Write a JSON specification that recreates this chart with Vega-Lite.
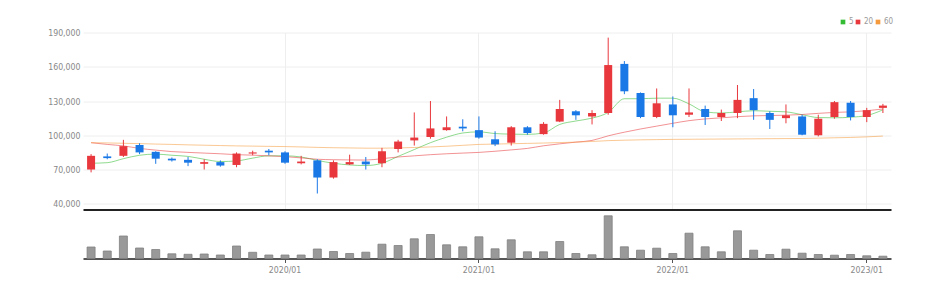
{
  "$schema": "https://vega.github.io/schema/vega-lite/v6.json",
  "padding": {"left": 0, "top": 17.5, "right": 0, "bottom": 0},
  "autosize": {"type": "pad"},
  "spacing": 0,
  "background": "white",
  "config": {
    "view": {"stroke": null},
    "font": "Liberation Sans Narrow, DejaVu Sans Condensed, Roboto, sans-serif",
    "axis": {"labelFont": "Liberation Sans Narrow, DejaVu Sans Condensed, Roboto, sans-serif", "labelColor": "#888", "labelFontSize": 8.7}
  },
  "data": {"values": [
    {"m": "2019/01", "o": 70000, "h": 83500, "l": 67500, "c": 82000, "v": 1150000, "ma5": 75500, "ma20": 93500, "ma60": 93500},
    {"m": "2019/02", "o": 81500, "h": 84000, "l": 79000, "c": 80000, "v": 750000, "ma5": 76000, "ma20": 92000, "ma60": 93300},
    {"m": "2019/03", "o": 82000, "h": 96000, "l": 81000, "c": 90500, "v": 2250000, "ma5": 79500, "ma20": 90700, "ma60": 93000},
    {"m": "2019/04", "o": 91500, "h": 93000, "l": 83500, "c": 85000, "v": 1050000, "ma5": 82500, "ma20": 88500, "ma60": 92700},
    {"m": "2019/05", "o": 85500, "h": 86000, "l": 75000, "c": 79500, "v": 900000, "ma5": 83500, "ma20": 87000, "ma60": 92300},
    {"m": "2019/06", "o": 79500, "h": 80500, "l": 77000, "c": 78000, "v": 470000, "ma5": 82500, "ma20": 85700, "ma60": 92000},
    {"m": "2019/07", "o": 78500, "h": 81000, "l": 73000, "c": 76000, "v": 420000, "ma5": 81500, "ma20": 85000, "ma60": 91600},
    {"m": "2019/08", "o": 75000, "h": 79000, "l": 70000, "c": 76500, "v": 450000, "ma5": 79000, "ma20": 84400, "ma60": 91300},
    {"m": "2019/09", "o": 76500, "h": 78000, "l": 72500, "c": 73500, "v": 350000, "ma5": 77000, "ma20": 83800, "ma60": 91000},
    {"m": "2019/10", "o": 74000, "h": 85000, "l": 72000, "c": 84000, "v": 1250000, "ma5": 77500, "ma20": 83000, "ma60": 90700},
    {"m": "2019/11", "o": 84000, "h": 86500, "l": 82500, "c": 85000, "v": 620000, "ma5": 80000, "ma20": 82600, "ma60": 90500},
    {"m": "2019/12", "o": 86500, "h": 88000, "l": 82500, "c": 85000, "v": 350000, "ma5": 82000, "ma20": 82000, "ma60": 90300},
    {"m": "2020/01", "o": 85000, "h": 86000, "l": 75000, "c": 76000, "v": 350000, "ma5": 82000, "ma20": 81300, "ma60": 90100},
    {"m": "2020/02", "o": 75500, "h": 82000, "l": 74500, "c": 77000, "v": 350000, "ma5": 81000, "ma20": 80200, "ma60": 89800},
    {"m": "2020/03", "o": 78000, "h": 79000, "l": 49000, "c": 63000, "v": 950000, "ma5": 78000, "ma20": 79000, "ma60": 89400},
    {"m": "2020/04", "o": 63000, "h": 78000, "l": 62000, "c": 76500, "v": 700000, "ma5": 75500, "ma20": 78600, "ma60": 89100},
    {"m": "2020/05", "o": 74500, "h": 83000, "l": 74000, "c": 76500, "v": 500000, "ma5": 74000, "ma20": 78400, "ma60": 88900},
    {"m": "2020/06", "o": 77000, "h": 81000, "l": 70000, "c": 74500, "v": 630000, "ma5": 73500, "ma20": 78300, "ma60": 88700},
    {"m": "2020/07", "o": 75500, "h": 89000, "l": 72000, "c": 86000, "v": 1430000, "ma5": 75500, "ma20": 79500, "ma60": 88700},
    {"m": "2020/08", "o": 88000, "h": 96000, "l": 85000, "c": 94500, "v": 1300000, "ma5": 81500, "ma20": 81000, "ma60": 88900},
    {"m": "2020/09", "o": 95500, "h": 120000, "l": 91000, "c": 98000, "v": 1970000, "ma5": 87500, "ma20": 82000, "ma60": 89300},
    {"m": "2020/10", "o": 98500, "h": 130000, "l": 97000, "c": 106000, "v": 2400000, "ma5": 93500, "ma20": 83000, "ma60": 89800},
    {"m": "2020/11", "o": 104500, "h": 116500, "l": 104000, "c": 107000, "v": 1370000, "ma5": 98300, "ma20": 83800, "ma60": 90400},
    {"m": "2020/12", "o": 107500, "h": 114000, "l": 103500, "c": 106000, "v": 1170000, "ma5": 102000, "ma20": 84400, "ma60": 91200},
    {"m": "2021/01", "o": 104500, "h": 116500, "l": 97000, "c": 98000, "v": 2170000, "ma5": 103000, "ma20": 85000, "ma60": 92000},
    {"m": "2021/02", "o": 96500, "h": 103500, "l": 90500, "c": 92000, "v": 970000, "ma5": 101500, "ma20": 86000, "ma60": 92300},
    {"m": "2021/03", "o": 93500, "h": 108000, "l": 91000, "c": 107000, "v": 1870000, "ma5": 101000, "ma20": 87200, "ma60": 92600},
    {"m": "2021/04", "o": 107000, "h": 108000, "l": 100500, "c": 102000, "v": 670000, "ma5": 100800, "ma20": 88500, "ma60": 92900},
    {"m": "2021/05", "o": 101000, "h": 111500, "l": 100500, "c": 110000, "v": 670000, "ma5": 102000, "ma20": 90800, "ma60": 93200},
    {"m": "2021/06", "o": 112000, "h": 131000, "l": 111500, "c": 123000, "v": 1700000, "ma5": 109500, "ma20": 92500, "ma60": 93600},
    {"m": "2021/07", "o": 121000, "h": 122000, "l": 113500, "c": 117500, "v": 500000, "ma5": 112500, "ma20": 94000, "ma60": 94000},
    {"m": "2021/08", "o": 116500, "h": 122000, "l": 109500, "c": 119500, "v": 370000, "ma5": 115000, "ma20": 95500, "ma60": 94600},
    {"m": "2021/09", "o": 119500, "h": 185500, "l": 118000, "c": 161500, "v": 4270000, "ma5": 120000, "ma20": 99500, "ma60": 95300},
    {"m": "2021/10", "o": 162500, "h": 165000, "l": 136000, "c": 138500, "v": 1170000, "ma5": 132000, "ma20": 102700, "ma60": 95700},
    {"m": "2021/11", "o": 137000, "h": 137500, "l": 115000, "c": 116000, "v": 830000, "ma5": 132000, "ma20": 105500, "ma60": 96000},
    {"m": "2021/12", "o": 116000, "h": 141000, "l": 115000, "c": 128000, "v": 1030000, "ma5": 132500, "ma20": 108000, "ma60": 96200},
    {"m": "2022/01", "o": 127000, "h": 134000, "l": 107000, "c": 117500, "v": 500000, "ma5": 132500, "ma20": 110500, "ma60": 96400},
    {"m": "2022/02", "o": 118000, "h": 141000, "l": 116000, "c": 120000, "v": 2530000, "ma5": 127500, "ma20": 112800, "ma60": 96500},
    {"m": "2022/03", "o": 123000, "h": 126000, "l": 109000, "c": 116000, "v": 1170000, "ma5": 120500, "ma20": 114300, "ma60": 96600},
    {"m": "2022/04", "o": 116000, "h": 122500, "l": 112500, "c": 119500, "v": 670000, "ma5": 119500, "ma20": 115300, "ma60": 96700},
    {"m": "2022/05", "o": 119500, "h": 144000, "l": 115000, "c": 131000, "v": 2770000, "ma5": 120500, "ma20": 116300, "ma60": 96800},
    {"m": "2022/06", "o": 132500, "h": 140500, "l": 113500, "c": 122000, "v": 830000, "ma5": 121500, "ma20": 117000, "ma60": 96900},
    {"m": "2022/07", "o": 119500, "h": 121000, "l": 105500, "c": 113500, "v": 400000, "ma5": 121000, "ma20": 117300, "ma60": 97000},
    {"m": "2022/08", "o": 115000, "h": 127000, "l": 110500, "c": 117500, "v": 930000, "ma5": 120500, "ma20": 117600, "ma60": 97100},
    {"m": "2022/09", "o": 116500, "h": 118000, "l": 100000, "c": 100500, "v": 530000, "ma5": 118000, "ma20": 118200, "ma60": 97200},
    {"m": "2022/10", "o": 100000, "h": 118000, "l": 99000, "c": 114500, "v": 400000, "ma5": 115500, "ma20": 119200, "ma60": 97500},
    {"m": "2022/11", "o": 116000, "h": 130000, "l": 114500, "c": 129000, "v": 330000, "ma5": 115300, "ma20": 120000, "ma60": 97800},
    {"m": "2022/12", "o": 128500, "h": 130000, "l": 113000, "c": 116000, "v": 400000, "ma5": 115800, "ma20": 120500, "ma60": 98100},
    {"m": "2023/01", "o": 116000, "h": 124000, "l": 111500, "c": 122000, "v": 270000, "ma5": 117300, "ma20": 121500, "ma60": 98600},
    {"m": "2023/02", "o": 124000, "h": 127500, "l": 119500, "c": 126000, "v": 230000, "ma5": 122300, "ma20": 123000, "ma60": 99300}
  ]},
  "vconcat": [
    {
      "width": 808,
      "height": 177,
      "encoding": {
        "x": {
          "field": "m", "type": "ordinal", "sort": null,
          "scale": {"type": "band", "paddingInner": 0, "paddingOuter": 0},
          "axis": {
            "title": null, "labels": false, "ticks": false,
            "domainColor": "#222", "domainWidth": 2,
            "grid": true, "gridColor": "#eeeeee", "bandPosition": 0.5,
            "values": ["2020/01", "2021/01", "2022/01", "2023/01"]
          }
        }
      },
      "layer": [
        {
          "transform": [{"fold": ["ma5", "ma20", "ma60"], "as": ["ma", "val"]}],
          "mark": {"type": "line", "strokeWidth": 1, "opacity": 0.55, "interpolate": "monotone"},
          "encoding": {
            "y": {
              "field": "val", "type": "quantitative",
              "scale": {"domain": [35000, 190000], "nice": false, "zero": false},
              "axis": {
                "title": null, "values": [40000, 70000, 100000, 130000, 160000, 190000], "tickCount": 12,
                "format": ",.0f", "labelOverlap": false, "domain": false, "ticks": false, "labelPadding": 3,
                "gridColor": "#eeeeee", "minExtent": 83, "maxExtent": 83
              }
            },
            "color": {
              "field": "ma", "type": "nominal",
              "scale": {"domain": ["ma5", "ma20", "ma60"], "range": ["#33bb33", "#e8383d", "#f59a3c"]},
              "legend": {
                "title": null, "orient": "none", "direction": "horizontal",
                "legendX": 756, "legendY": -14.5,
                "symbolType": "square", "symbolSize": 22, "symbolOpacity": 1,
                "symbolStrokeWidth": 0,
                "labelExpr": "replace(datum.label, 'ma', '')",
                "labelColor": "#999", "labelFontSize": 8,
                "labelFont": "Liberation Sans Narrow, DejaVu Sans Condensed, Roboto, sans-serif",
                "columnPadding": 0, "labelOffset": 2,
                "encode": {"symbols": {"update": {"fill": {"scale": "color", "field": "value"}, "opacity": {"value": 1}}}}
              }
            }
          }
        },
        {
          "mark": {"type": "rule", "strokeWidth": 1},
          "encoding": {
            "y": {"field": "l", "type": "quantitative"},
            "y2": {"field": "h"},
            "color": {"condition": {"test": "datum.c >= datum.o", "value": "#e8383d"}, "value": "#1a78e6"}
          }
        },
        {
          "mark": {"type": "bar", "size": 8},
          "encoding": {
            "y": {"field": "o", "type": "quantitative"},
            "y2": {"field": "c"},
            "color": {"condition": {"test": "datum.c >= datum.o", "value": "#e8383d"}, "value": "#1a78e6"}
          }
        }
      ]
    },
    {
      "width": 808,
      "height": 49,
      "mark": {"type": "bar", "size": 8, "color": "#999999", "stroke": "#808080", "strokeWidth": 0.8},
      "encoding": {
        "x": {
          "field": "m", "type": "ordinal", "sort": null,
          "scale": {"type": "band", "paddingInner": 0, "paddingOuter": 0},
          "axis": {
            "title": null, "grid": false, "bandPosition": 0.5,
            "values": ["2020/01", "2021/01", "2022/01", "2023/01"],
            "domainColor": "#555", "domainWidth": 2,
            "tickColor": "#555", "tickSize": 4, "labelPadding": 3, "labelAngle": 0
          }
        },
        "y": {
          "field": "v", "type": "quantitative",
          "scale": {"domain": [0, 4900000], "nice": false},
          "axis": {"title": null, "labels": false, "ticks": false, "domain": false, "grid": false, "minExtent": 83, "maxExtent": 83}
        }
      }
    }
  ]
}
